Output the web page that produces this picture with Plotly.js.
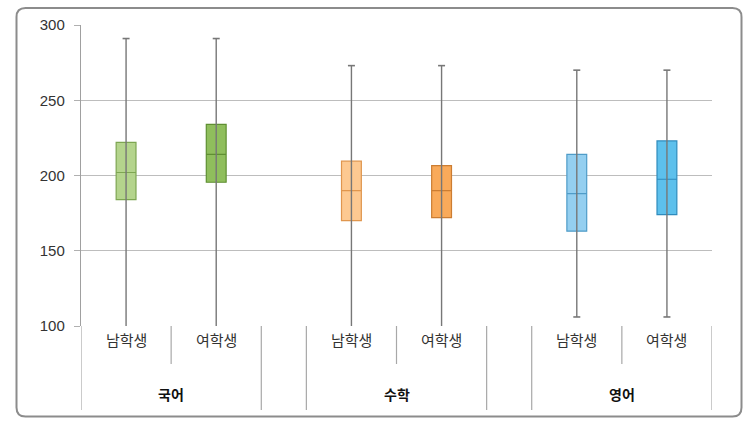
<!DOCTYPE html>
<html>
<head>
<meta charset="utf-8">
<script src="https://cdn.plot.ly/plotly-3.0.1.min.js"></script>
<style>html,body{margin:0;padding:0;background:#fff;}#chart{width:754px;height:428px;}</style>
</head>
<body>
<div id="chart"></div>
<script>
// ---- data ----
var subjects = ['국어', '수학', '영어'];
var genders = ['남학생', '여학생'];
var q1Vals     = [184, 195.5, 170, 172, 163, 174];
var medianVals = [202, 214, 190, 190, 188, 197.5];
var q3Vals     = [222, 234, 209.5, 206.5, 214, 223];
var upperVals  = [291, 291, 273, 273, 270, 270];
var lowerVals  = [97, 97, 95, 95, 106, 106];
var yTicks = [100, 150, 200, 250, 300];

// ---- styles ----
var fills = ['#b4d48c', '#8fbe5c', '#fdc991', '#f9aa5a', '#94cff0', '#5dc0ec'];
var lines = ['#7ea652', '#5f8f32', '#e0964e', '#cc7d32', '#4f9cc8', '#2f8bbd'];
var GAP = 0.5; // gap between subject groups (in category widths)

// positions derived from category indices
var positions = [];
var labels = [];
subjects.forEach(function (s, g) {
  genders.forEach(function (gd, k) {
    positions.push(g * (genders.length + GAP) + k + 0.5);
    labels.push(gd);
  });
});
var totalRange = subjects.length * genders.length + (subjects.length - 1) * GAP;

var traces = [];
for (var i = 0; i < positions.length; i++) {
  traces.push({
    type: 'box',
    x: [positions[i]],
    q1: [q1Vals[i]], median: [medianVals[i]], q3: [q3Vals[i]],
    lowerfence: [q1Vals[i]], upperfence: [q3Vals[i]],
    width: 0.22,
    fillcolor: fills[i],
    line: {color: lines[i], width: 1.2},
    whiskerwidth: 0,
    hoverinfo: 'skip',
    showlegend: false
  });
}
// whiskers (drawn on top, gray, through the box)
var wx = [], wy = [];
for (var j = 0; j < positions.length; j++) {
  wx.push(positions[j], positions[j], null);
  wy.push(lowerVals[j], upperVals[j], null);
}
traces.push({
  type: 'scatter', mode: 'lines+markers',
  x: wx, y: wy,
  line: {color: '#777777', width: 1.4},
  marker: {symbol: 'line-ew', size: 5, line: {color: '#777777', width: 1.6}},
  hoverinfo: 'skip', showlegend: false
});

// ---- geometry helpers ----
var L = 81, R = 42, T = 25, B = 102, W = 754, H = 428;
var pw = W - L - R, ph = H - T - B;
function py(pix) { return (H - B - pix) / ph; }   // pixel y -> paper y
function px(pix) { return (pix - L) / pw; }       // pixel x -> paper x

var shapes = [];
var annotations = [];
var lineCol = '#a8a8a8';
// divider lines under the axis
subjects.forEach(function (s, g) {
  var start = g * (genders.length + GAP);
  var end = start + genders.length;
  [start, end].forEach(function (xv) {
    shapes.push({type: 'line', xref: 'x', yref: 'paper', x0: xv, x1: xv, y0: 0, y1: py(410),
      line: {color: lineCol, width: 1.2}});
  });
  for (var k = 1; k < genders.length; k++) {
    shapes.push({type: 'line', xref: 'x', yref: 'paper', x0: start + k, x1: start + k, y0: 0, y1: py(364),
      line: {color: lineCol, width: 1.2}});
  }
  annotations.push({xref: 'x', yref: 'paper', x: (start + end) / 2, y: py(395), text: '<b>' + s + '</b>',
    showarrow: false, yanchor: 'middle', font: {size: 14, color: '#111'}});
});
positions.forEach(function (p, i) {
  annotations.push({xref: 'x', yref: 'paper', x: p, y: py(340), text: labels[i],
    showarrow: false, yanchor: 'middle', font: {size: 15, color: '#333'}});
});

// rounded outer frame
var x0 = px(16.5), x1 = px(741.5), y0 = py(416.5), y1 = py(8);
var rx = 9 / pw, ry = 9 / ph;
var path = 'M' + (x0 + rx) + ',' + y1 +
  ' L' + (x1 - rx) + ',' + y1 + ' Q' + x1 + ',' + y1 + ' ' + x1 + ',' + (y1 - ry) +
  ' L' + x1 + ',' + (y0 + ry) + ' Q' + x1 + ',' + y0 + ' ' + (x1 - rx) + ',' + y0 +
  ' L' + (x0 + rx) + ',' + y0 + ' Q' + x0 + ',' + y0 + ' ' + x0 + ',' + (y0 + ry) +
  ' L' + x0 + ',' + (y1 - ry) + ' Q' + x0 + ',' + y1 + ' ' + (x0 + rx) + ',' + y1 + ' Z';
shapes.push({type: 'path', xref: 'paper', yref: 'paper', path: path,
  line: {color: '#8c8c8c', width: 2}, layer: 'above'});

var layout = {
  width: W, height: H,
  margin: {l: L, r: R, t: T, b: B, pad: 0},
  paper_bgcolor: '#fff', plot_bgcolor: '#fff',
  font: {family: '"Liberation Sans", "Noto Sans CJK KR", sans-serif', color: '#333'},
  showlegend: false,
  xaxis: {range: [0, totalRange], showgrid: false, zeroline: false, showticklabels: false,
    ticks: '', showline: false, fixedrange: true},
  yaxis: {range: [100, 300], tickvals: yTicks, ticktext: yTicks.map(String),
    showgrid: true, gridcolor: '#bdbdbd', gridwidth: 1, zeroline: false,
    showline: true, linecolor: '#a0a0a0', linewidth: 1.2,
    ticks: 'outside', ticklen: 6, tickcolor: '#b0b0b0', tickfont: {size: 15, color: '#333'},
    ticklabelstandoff: 6},
  shapes: shapes,
  annotations: annotations
};

Plotly.newPlot('chart', traces, layout, {staticPlot: true, displayModeBar: false});
</script>
</body>
</html>
